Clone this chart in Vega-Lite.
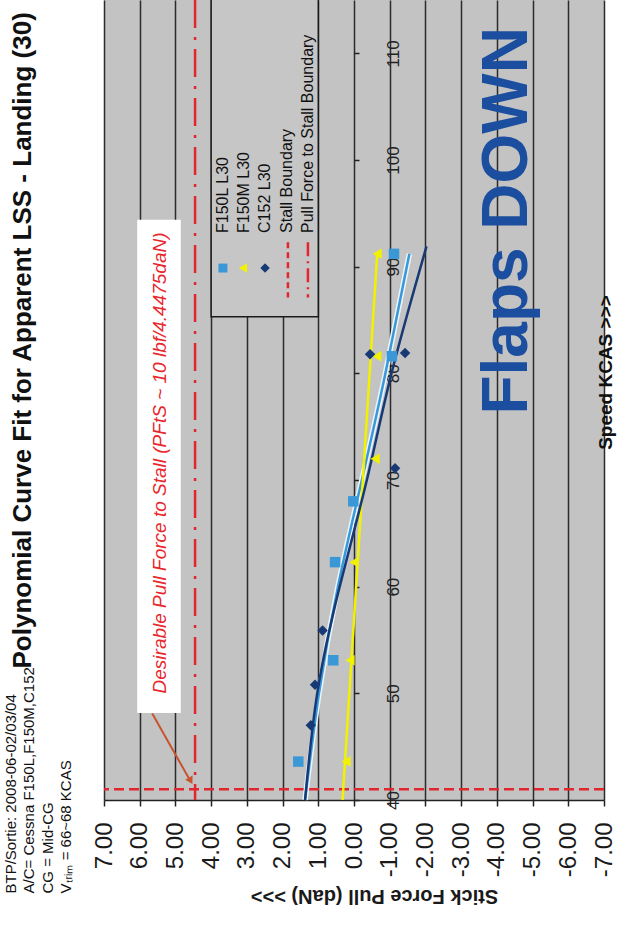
{
  "$schema": "https://vega.github.io/schema/vega-lite/v6.json",
  "width": 500,
  "height": 800,
  "autosize": {"type": "none"},
  "padding": {"left": 104, "top": 0, "right": 15, "bottom": 132},
  "background": "#ffffff",
  "view": {"fill": "#c3c3c3", "stroke": null},
  "config": {"font": "Liberation Sans"},
  "datasets": {
    "points": [
      {"series": "F150L L30", "speed": 43.6, "force": 1.56},
      {"series": "F150L L30", "speed": 53.1, "force": 0.58},
      {"series": "F150L L30", "speed": 62.3, "force": 0.53},
      {"series": "F150L L30", "speed": 68.0, "force": 0.02},
      {"series": "F150L L30", "speed": 81.6, "force": -1.06},
      {"series": "F150L L30", "speed": 91.2, "force": -1.12},
      {"series": "F150M L30", "speed": 43.6, "force": 0.22},
      {"series": "F150M L30", "speed": 53.1, "force": 0.11},
      {"series": "F150M L30", "speed": 62.3, "force": 0.0},
      {"series": "F150M L30", "speed": 72.0, "force": -0.59},
      {"series": "F150M L30", "speed": 81.6, "force": -0.64},
      {"series": "F150M L30", "speed": 91.2, "force": -0.65},
      {"series": "C152 L30", "speed": 47.0, "force": 1.21},
      {"series": "C152 L30", "speed": 50.8, "force": 1.09},
      {"series": "C152 L30", "speed": 55.9, "force": 0.88},
      {"series": "C152 L30", "speed": 71.1, "force": -1.15},
      {"series": "C152 L30", "speed": 81.8, "force": -0.45},
      {"series": "C152 L30", "speed": 81.9, "force": -1.43}
    ],
    "curves": [
      {"series": "F150L L30", "speed": 40, "force": 1.37},
      {"series": "F150L L30", "speed": 50, "force": 0.98},
      {"series": "F150L L30", "speed": 60, "force": 0.45},
      {"series": "F150L L30", "speed": 70, "force": -0.22},
      {"series": "F150L L30", "speed": 80, "force": -0.88},
      {"series": "F150L L30", "speed": 91.2, "force": -1.55},
      {"series": "F150M L30", "speed": 40, "force": 0.32},
      {"series": "F150M L30", "speed": 91.2, "force": -0.65},
      {"series": "C152 L30", "speed": 40, "force": 1.37},
      {"series": "C152 L30", "speed": 50, "force": 1.03},
      {"series": "C152 L30", "speed": 60, "force": 0.40},
      {"series": "C152 L30", "speed": 70, "force": -0.36},
      {"series": "C152 L30", "speed": 80, "force": -1.05},
      {"series": "C152 L30", "speed": 91.9, "force": -2.03}
    ]
  },
  "resolve": {"axis": {"x": "independent", "y": "independent"}},
  "layer": [
    {
      "data": {"name": "points"},
      "mark": {"type": "point", "filled": true, "size": 110, "opacity": 0},
      "encoding": {
        "x": {"field": "force", "type": "quantitative", "scale": {"domain": [-7, 7], "reverse": true, "nice": false, "zero": false},
          "axis": {"orient": "bottom", "values": [-7, -6, -5, -4, -3, -2, -1, 0, 1, 2, 3, 4, 5, 6, 7],
            "labelExpr": "replace(format(datum.value, '.2f'), '\u2212', '-')",
            "labelAngle": 270, "labelAlign": "right", "labelBaseline": "middle", "labelFontSize": 24, "labelPadding": 16,
            "labelColor": "#1a1a1a", "labelOverlap": false, "labelFlush": false, "labelBound": false,
            "ticks": true, "tickSize": 6, "tickColor": "#222222", "tickWidth": 1.5,
            "domain": true, "domainColor": "#222222", "domainWidth": 1.5,
            "grid": true, "gridColor": "#2b2b2b", "gridWidth": 1.5, "gridOpacity": 1,
            "title": "Stick Force Pull (daN) >>>", "titleAngle": 180, "titleFontSize": 20, "titleFontWeight": "bold",
            "titleX": 270, "titleY": 95, "titleAlign": "center", "titleBaseline": "middle", "titleColor": "#1a1a1a"}},
        "y": {"field": "speed", "type": "quantitative", "scale": {"domain": [40, 115], "nice": false, "zero": false},
          "axis": {"orient": "right", "offset": -250, "values": [40, 50, 60, 70, 80, 90, 100, 110],
            "labelAngle": 270, "labelAlign": "center", "labelBaseline": "top", "labelFontSize": 17, "labelPadding": 26,
            "labelColor": "#222222", "labelOverlap": false, "labelFlush": false,
            "ticks": true, "tickSize": 5, "tickColor": "#222222", "tickWidth": 1.5,
            "domain": false, "grid": false,
            "title": "Speed KCAS >>>", "titleAngle": 270, "titleFontSize": 19, "titleFontWeight": "bold",
            "titleX": 251, "titleY": 372, "titleAlign": "center", "titleBaseline": "middle", "titleColor": "#111111"}}
      }
    },
    {
      "data": {"values": [{}]},
      "mark": {"type": "rect", "fill": "#ffffff"},
      "encoding": {
        "x": {"datum": 6.07, "type": "quantitative", "scale": {"domain": [-7, 7], "reverse": true, "nice": false, "zero": false}, "axis": null},
        "x2": {"datum": 4.85},
        "y": {"datum": 48.15, "type": "quantitative", "scale": {"domain": [40, 115], "nice": false, "zero": false},
          "axis": {"orient": "left", "labels": false, "ticks": false, "domain": false, "grid": false,
            "title": ["BTP/Sortie: 2008-06-02/03/04", "A/C= Cessna F150L,F150M,C152", "CG = Mid-CG", "Vₜᵣᵢₘ = 66~68 KCAS"],
            "titleAngle": 270, "titleAlign": "left", "titleBaseline": "top", "titleX": -101, "titleY": 893,
            "titleFontSize": 15, "titleFontWeight": "normal", "titleLineHeight": 18.5, "titleColor": "#111111"}},
        "y2": {"datum": 94.4}
      }
    },
    {
      "data": {"values": [{}]},
      "mark": {"type": "rect", "fill": "#c6c6c6", "stroke": "#1a1a1a", "strokeWidth": 1.5},
      "encoding": {
        "x": {"datum": 4.0, "type": "quantitative", "scale": {"domain": [-7, 7], "reverse": true, "nice": false, "zero": false}, "axis": null},
        "x2": {"datum": 1.0},
        "y": {"datum": 85.3, "type": "quantitative", "scale": {"domain": [40, 115], "nice": false, "zero": false},
          "axis": {"orient": "left", "labels": false, "ticks": false, "domain": false, "grid": false,
            "title": "Polynomial Curve Fit for Apparent LSS - Landing (30)",
            "titleAngle": 270, "titleAlign": "left", "titleBaseline": "alphabetic", "titleX": -74, "titleY": 668,
            "titleFontSize": 26, "titleFontWeight": "bold", "titleColor": "#111111"}},
        "y2": {"datum": 117}
      }
    },
    {
      "data": {"values": [{"name": "Pull Force to Stall Boundary", "force": 4.45}]},
      "mark": {"type": "rule", "color": "#e3262e", "strokeWidth": 2.5, "strokeDash": [28, 9, 3, 9]},
      "encoding": {
        "x": {"field": "force", "type": "quantitative", "scale": {"domain": [-7, 7], "reverse": true, "nice": false, "zero": false}, "axis": null}
      }
    },
    {
      "data": {"values": [{"name": "Stall Boundary", "speed": 41}]},
      "mark": {"type": "rule", "color": "#e3262e", "strokeWidth": 2.5, "strokeDash": [10, 5]},
      "encoding": {
        "y": {"field": "speed", "type": "quantitative", "scale": {"domain": [40, 115], "nice": false, "zero": false}, "axis": null}
      }
    },
    {
      "data": {"values": [{}]},
      "mark": {"type": "rule", "color": "#c9532e", "strokeWidth": 2},
      "encoding": {
        "x": {"datum": 5.65, "type": "quantitative", "scale": {"domain": [-7, 7], "reverse": true, "nice": false, "zero": false}, "axis": null},
        "x2": {"datum": 4.6},
        "y": {"datum": 48.1, "type": "quantitative", "scale": {"domain": [40, 115], "nice": false, "zero": false}, "axis": null},
        "y2": {"datum": 41.9}
      }
    },
    {
      "data": {"values": [{}]},
      "mark": {"type": "point", "shape": "triangle", "angle": 151, "size": 70, "filled": true, "color": "#c9532e", "opacity": 1},
      "encoding": {
        "x": {"datum": 4.59, "type": "quantitative", "scale": {"domain": [-7, 7], "reverse": true, "nice": false, "zero": false}, "axis": null},
        "y": {"datum": 41.9, "type": "quantitative", "scale": {"domain": [40, 115], "nice": false, "zero": false}, "axis": null}
      }
    },
    {
      "data": {"values": [{"note": "Desirable Pull Force to Stall (PFtS ~ 10 lbf/4.4475daN)"}]},
      "mark": {"type": "text", "angle": 270, "align": "center", "baseline": "middle", "fontSize": 19, "fontStyle": "italic", "color": "#e8262b"},
      "encoding": {
        "x": {"datum": 5.42, "type": "quantitative", "scale": {"domain": [-7, 7], "reverse": true, "nice": false, "zero": false}, "axis": null},
        "y": {"datum": 71.6, "type": "quantitative", "scale": {"domain": [40, 115], "nice": false, "zero": false}, "axis": null},
        "text": {"field": "note"}
      }
    },
    {
      "data": {"values": [{"label": "Flaps DOWN"}]},
      "mark": {"type": "text", "angle": 270, "align": "center", "baseline": "middle", "fontSize": 64, "fontWeight": "bold", "color": "#1c4ea0"},
      "encoding": {
        "x": {"datum": -4.3, "type": "quantitative", "scale": {"domain": [-7, 7], "reverse": true, "nice": false, "zero": false}, "axis": null},
        "y": {"datum": 94.3, "type": "quantitative", "scale": {"domain": [40, 115], "nice": false, "zero": false}, "axis": null},
        "text": {"field": "label"}
      }
    },
    {
      "data": {"name": "curves"},
      "transform": [{"filter": "datum.series === 'F150L L30'"}],
      "mark": {"type": "line", "color": "#eaf6ff", "strokeWidth": 5.5, "interpolate": "natural"},
      "encoding": {
        "x": {"field": "force", "type": "quantitative", "scale": {"domain": [-7, 7], "reverse": true, "nice": false, "zero": false}, "axis": null},
        "y": {"field": "speed", "type": "quantitative", "scale": {"domain": [40, 115], "nice": false, "zero": false}, "axis": null},
        "order": {"field": "speed", "type": "quantitative"}
      }
    },
    {
      "data": {"name": "curves"},
      "mark": {"type": "line", "strokeWidth": 2.5, "interpolate": "natural"},
      "encoding": {
        "x": {"field": "force", "type": "quantitative", "scale": {"domain": [-7, 7], "reverse": true, "nice": false, "zero": false}, "axis": null},
        "y": {"field": "speed", "type": "quantitative", "scale": {"domain": [40, 115], "nice": false, "zero": false}, "axis": null},
        "color": {"field": "series", "type": "nominal", "scale": {"domain": ["F150L L30", "F150M L30", "C152 L30"], "range": ["#3a98d6", "#f2f200", "#173a75"]}, "legend": null},
        "detail": {"field": "series"},
        "order": {"field": "speed", "type": "quantitative"}
      }
    },
    {
      "data": {"name": "points"},
      "mark": {"type": "point", "filled": true, "size": 110, "opacity": 1},
      "encoding": {
        "x": {"field": "force", "type": "quantitative", "scale": {"domain": [-7, 7], "reverse": true, "nice": false, "zero": false}, "axis": null},
        "y": {"field": "speed", "type": "quantitative", "scale": {"domain": [40, 115], "nice": false, "zero": false}, "axis": null},
        "color": {"field": "series", "type": "nominal", "scale": {"domain": ["F150L L30", "F150M L30", "C152 L30"], "range": ["#3a98d6", "#f2f200", "#173a75"]}, "legend": null},
        "shape": {"field": "series", "type": "nominal", "scale": {"domain": ["F150L L30", "F150M L30", "C152 L30"], "range": ["square", "triangle-left", "diamond"]}, "legend": null}
      }
    },
    {
      "data": {"values": [{}]},
      "mark": {"type": "text", "text": ["F150L L30", "F150M L30", "C152 L30", "Stall Boundary", "Pull Force to Stall Boundary"],
        "angle": 270, "align": "left", "baseline": "middle", "fontSize": 16, "lineHeight": 21.25, "color": "#111111"},
      "encoding": {
        "x": {"datum": 3.67, "type": "quantitative", "scale": {"domain": [-7, 7], "reverse": true, "nice": false, "zero": false}, "axis": null},
        "y": {"datum": 93.16, "type": "quantitative", "scale": {"domain": [40, 115], "nice": false, "zero": false}, "axis": null}
      }
    },
    {
      "data": {"values": [{}]},
      "mark": {"type": "point", "shape": "square", "size": 80, "filled": true, "color": "#3a98d6", "opacity": 1},
      "encoding": {
        "x": {"datum": 3.67, "type": "quantitative", "scale": {"domain": [-7, 7], "reverse": true, "nice": false, "zero": false}, "axis": null},
        "y": {"datum": 89.87, "type": "quantitative", "scale": {"domain": [40, 115], "nice": false, "zero": false}, "axis": null}
      }
    },
    {
      "data": {"values": [{}]},
      "mark": {"type": "point", "shape": "triangle-left", "size": 90, "filled": true, "color": "#f2f200", "opacity": 1},
      "encoding": {
        "x": {"datum": 3.11, "type": "quantitative", "scale": {"domain": [-7, 7], "reverse": true, "nice": false, "zero": false}, "axis": null},
        "y": {"datum": 89.87, "type": "quantitative", "scale": {"domain": [40, 115], "nice": false, "zero": false}, "axis": null}
      }
    },
    {
      "data": {"values": [{}]},
      "mark": {"type": "point", "shape": "diamond", "size": 90, "filled": true, "color": "#173a75", "opacity": 1},
      "encoding": {
        "x": {"datum": 2.49, "type": "quantitative", "scale": {"domain": [-7, 7], "reverse": true, "nice": false, "zero": false}, "axis": null},
        "y": {"datum": 89.87, "type": "quantitative", "scale": {"domain": [40, 115], "nice": false, "zero": false}, "axis": null}
      }
    },
    {
      "data": {"values": [{}]},
      "mark": {"type": "rule", "color": "#e3262e", "strokeWidth": 2.5, "strokeDash": [6, 4]},
      "encoding": {
        "x": {"datum": 1.85, "type": "quantitative", "scale": {"domain": [-7, 7], "reverse": true, "nice": false, "zero": false}, "axis": null},
        "y": {"datum": 92.3, "type": "quantitative", "scale": {"domain": [40, 115], "nice": false, "zero": false}, "axis": null},
        "y2": {"datum": 87.1}
      }
    },
    {
      "data": {"values": [{}]},
      "mark": {"type": "rule", "color": "#e3262e", "strokeWidth": 2.5, "strokeDash": [14, 5, 2, 5]},
      "encoding": {
        "x": {"datum": 1.29, "type": "quantitative", "scale": {"domain": [-7, 7], "reverse": true, "nice": false, "zero": false}, "axis": null},
        "y": {"datum": 92.3, "type": "quantitative", "scale": {"domain": [40, 115], "nice": false, "zero": false}, "axis": null},
        "y2": {"datum": 87.1}
      }
    }
  ]
}
